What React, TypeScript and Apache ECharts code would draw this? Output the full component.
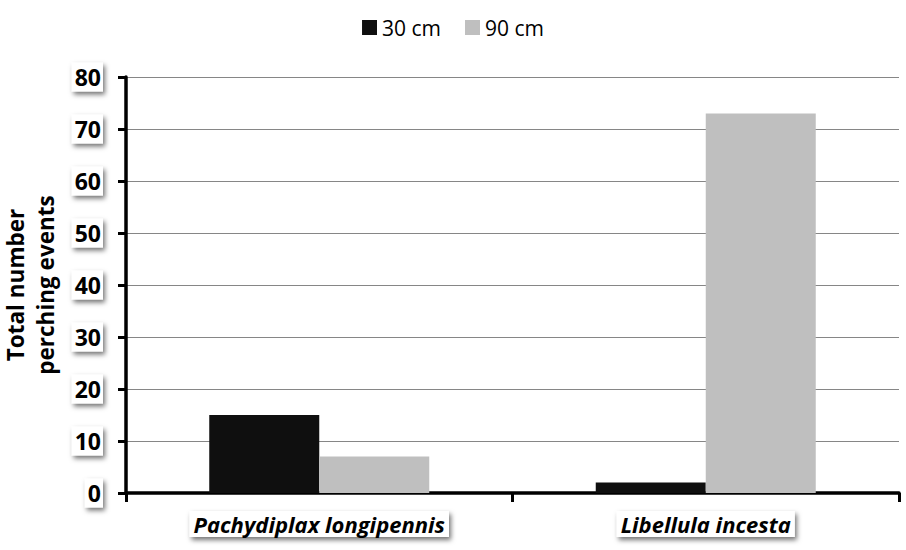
import React, { useEffect, useRef } from "react";
import * as echarts from "echarts";

const categories = ["Pachydiplax longipennis", "Libellula incesta"];
const series30 = [15, 2];
const series90 = [7, 73];
const seriesNames = ["30 cm", "90 cm"];
const yTicks = { min: 0, max: 80, interval: 10 };

const FONT = "'Open Sans', 'DejaVu Sans', sans-serif";

export default function App() {
  const ref = useRef<HTMLDivElement>(null);
  useEffect(() => {
    if (!ref.current) return;
    const chart = echarts.init(ref.current, null, { renderer: "svg" });
    const boxStyle = {
      backgroundColor: "#ffffff",
      shadowColor: "rgba(0,0,0,0.55)",
      shadowBlur: 5,
      shadowOffsetX: 2,
      shadowOffsetY: 3,
    };
    chart.setOption({
      animation: false,
      backgroundColor: "#ffffff",
      legend: {
        top: 12,
        left: "center",
        itemWidth: 15,
        itemHeight: 15,
        itemGap: 24,
        icon: "rect",
        textStyle: { fontFamily: FONT, fontSize: 21, color: "#000" },
        data: seriesNames,
      },
      grid: { left: 126, right: 7, top: 77, bottom: 57, containLabel: false, outerBoundsMode: "none" },
      xAxis: {
        type: "category",
        data: categories,
        axisLine: { lineStyle: { color: "#000", width: 3.5 } },
        axisTick: { show: true, length: 9, lineStyle: { color: "#000", width: 3 }, alignWithLabel: false },
        axisLabel: {
          margin: 18,
          fontFamily: FONT,
          fontSize: 22,
          fontWeight: "bold",
          fontStyle: "italic",
          color: "#000",
          padding: [2, 4, 2, 4],
          ...boxStyle,
        },
      },
      yAxis: {
        type: "value",
        min: yTicks.min,
        max: yTicks.max,
        interval: yTicks.interval,
        name: "Total number\nperching events",
        nameLocation: "middle",
        nameGap: 62,
        nameTextStyle: {
          fontFamily: FONT,
          fontSize: 22.5,
          fontWeight: "bold",
          color: "#000",
          lineHeight: 30,
        },
        axisLine: { show: true, lineStyle: { color: "#000", width: 3.5 } },
        axisTick: { show: true, length: 8, lineStyle: { color: "#000", width: 3 } },
        splitLine: { show: true, lineStyle: { color: "#868686", width: 1 } },
        axisLabel: {
          margin: 23,
          fontFamily: FONT,
          fontSize: 23,
          fontWeight: "bold",
          color: "#000",
          padding: [3, 2, 3, 3],
          ...boxStyle,
        },
      },
      series: [
        {
          name: seriesNames[0],
          type: "bar",
          data: series30,
          barWidth: 110,
          barGap: "0%",
          itemStyle: { color: "#0f0f0f" },
        },
        {
          name: seriesNames[1],
          type: "bar",
          data: series90,
          barWidth: 110,
          barGap: "0%",
          itemStyle: { color: "#bfbfbf" },
        },
      ],
    });
    return () => chart.dispose();
  }, []);
  return <div ref={ref} style={{ width: 906, height: 550, position: "absolute", left: 0, top: 0 }} />;
}
